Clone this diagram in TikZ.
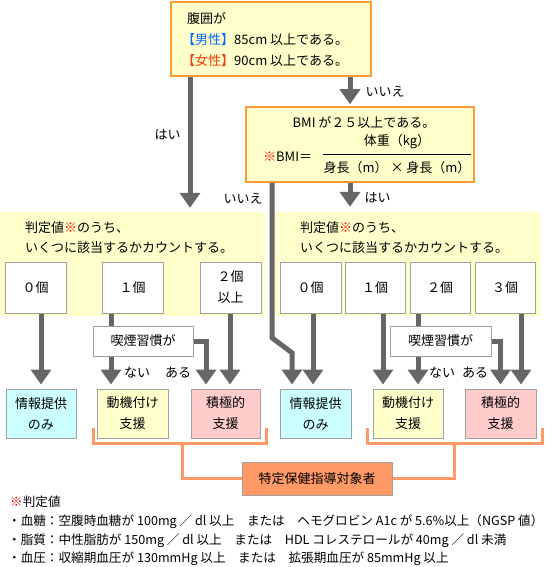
\documentclass[tikz,border=0pt]{standalone}
\usepackage{fontspec}
\setmainfont{Noto Sans CJK JP}
\usetikzlibrary{arrows.meta,calc}
\definecolor{memo}{HTML}{FFFFCC}
\definecolor{waku}{HTML}{FF9933}
\definecolor{daidai}{HTML}{FF9966}
\definecolor{sen}{HTML}{666666}
\definecolor{hai}{HTML}{A0A0A0}
\definecolor{mizu}{HTML}{CCFFFF}
\definecolor{momo}{HTML}{FFCCCC}
\definecolor{ao}{HTML}{0066FF}
\definecolor{aka}{HTML}{FF3300}
\begin{document}
\begin{tikzpicture}[x=1pt,y=-1pt,
    font=\fontsize{13}{21}\selectfont,
    every node/.style={inner sep=0pt},
    joken/.style={draw=waku,line width=1.5pt,fill=memo},
    panel/.style={fill=memo,minimum width=265pt,minimum height=104pt},
    kosu/.style={draw=hai,line width=1pt,fill=white,minimum width=61pt,minimum height=51pt,align=center},
    kekka/.style={draw=hai,line width=1pt,minimum width=70pt,minimum height=49pt,align=center},
    kitsuen/.style={draw=hai,line width=1pt,fill=white,minimum width=100pt,minimum height=30pt},
    bo/.style={draw=sen,line width=5pt},
    ya/.style={bo,-{Triangle[width=20pt,length=15pt]},shorten >=4pt},
    kakko/.style={draw=daidai,line width=3pt},
    chu/.style={anchor=west,font=\fontsize{12.6}{15}\selectfont}]
    \useasboundingbox (0,0) rectangle (554,567);

    % question boxes
    \node[joken,minimum width=200pt,minimum height=74pt] (fukui) at (271,39) {};
    \node[anchor=west,align=left] (fukuitxt) at (187,39.5) {腹囲が\\{\color{ao}\hspace{-5pt}【男性】}85cm 以上である。\\{\color{aka}\hspace{-5pt}【女性】}90cm 以上である。};
    \node[joken,minimum width=228pt,minimum height=75pt] (bmi) at (360,144.5) {};
    \node (bmititle) at (364,123) {BMI が２５以上である。};
    \node[anchor=west] (bmieq) at (263,157) {{\color{red}※}BMI＝};
    \node (bminum) at (397,142) {体重（kg）};
    \node (bmiden) at (397,168) {身長（m） × 身長（m）};
    \draw[line width=1.2pt] ($(bmiden.north west)+(0,-7)$) -- ($(bmiden.north east)+(0,-7)$);

    % count panels
    \node[panel] (lpanel) at (132.5,264) {};
    \node[panel] (rpanel) at (407.5,264) {};
    \node[anchor=west,align=left,font=\fontsize{13}{20}\selectfont] (ltxt) at (25,238) {判定値{\color{red}※}のうち、\\いくつに該当するかカウントする。};
    \node[anchor=west,align=left,font=\fontsize{13}{20}\selectfont] (rtxt) at (300,238) {判定値{\color{red}※}のうち、\\いくつに該当するかカウントする。};
    \node[kosu] (l0) at (35.5,287.5) {０個};
    \node[kosu] (l1) at (132.5,287.5) {１個};
    \node[kosu] (l2) at (230.5,287.5) {２個\\以上};
    \node[kosu] (r0) at (310.5,287.5) {０個};
    \node[kosu,minimum width=60pt] (r1) at (375,287.5) {１個};
    \node[kosu,minimum width=60pt] (r2) at (440,287.5) {２個};
    \node[kosu,minimum width=60pt] (r3) at (505,287.5) {３個};
    \node[kitsuen] (lsmoke) at (143,341) {喫煙習慣が};
    \node[kitsuen,minimum width=101pt] (rsmoke) at (440.5,341) {喫煙習慣が};

    % brackets to the target box
    \node[kekka,fill=daidai,minimum width=150pt,minimum height=33pt] (taisho) at (317,478.5) {特定保健指導対象者};
    \draw[kakko] ($(97,438)+(-4,-10)$) |- ($(260,438)+(6,5)$) -- ++(0,-15);
    \draw[kakko] ($(373,438)+(-6,-10)$) |- ($(536,438)+(6,5)$) -- ++(0,-15);
    \coordinate (lstem) at (182,443);
    \coordinate (rstem) at (454,443);
    \draw[kakko] (lstem) |- (taisho.west);
    \draw[kakko] (rstem) |- (taisho.east);

    % result boxes
    \node[kekka,fill=mizu] (linfo) at (41,413.5) {情報提供\\のみ};
    \node[kekka,fill=memo,minimum width=71pt] (lmot) at (132.5,413.5) {動機付け\\支援};
    \node[kekka,fill=momo,minimum width=69pt] (lact) at (225.5,413.5) {積極的\\支援};
    \node[kekka,fill=mizu,minimum width=71pt] (rinfo) at (315.5,413.5) {情報提供\\のみ};
    \node[kekka,fill=memo] (rmot) at (408,413.5) {動機付け\\支援};
    \node[kekka,fill=momo,minimum width=71pt] (ract) at (500.5,413.5) {積極的\\支援};

    % yes / no arrows
    \draw[ya] ([xshift=-81pt]fukui.south) -- node[pos=0.43,left=7pt]{はい} ([xshift=-81pt]fukui.south |- lpanel.north);
    \draw[ya,shorten >=2pt] ([xshift=79pt]fukui.south) -- node[right=13pt]{いいえ} ([xshift=79pt]fukui.south |- bmi.north);
    \draw[ya,shorten >=5pt] ([xshift=-10pt]bmi.south) -- node[right=12pt]{はい} ([xshift=-10pt]bmi.south |- rpanel.north);
    \draw[ya] ([xshift=-88pt]bmi.south) -- node[pos=0.1,left=7pt]{いいえ} ++(0,155) -- ++(20,15) -- ([xshift=-23.5pt]rinfo.north);

    % count arrows, left
    \draw[ya] (l0.south -| linfo.north) -- (linfo.north);
    \draw[bo] ([xshift=-32pt]lsmoke.north |- l1.south) -- ([xshift=-32pt]lsmoke.north);
    \draw[ya] ([xshift=-32pt]lsmoke.south) -- ([xshift=-32pt]lsmoke.south |- lmot.north);
    \draw[ya] (lsmoke.east) -| ([xshift=-19.5pt]lact.north);
    \draw[ya] ([xshift=4.5pt]lact.north |- l2.south) -- ([xshift=4.5pt]lact.north);
    \node (lnai) at (137,373) {ない};
    \node (laru) at (178,373) {ある};

    % count arrows, right
    \draw[ya] ([xshift=-2.5pt]rinfo.north |- r0.south) -- ([xshift=-2.5pt]rinfo.north);
    \draw[ya] ([xshift=-25pt]rmot.north |- r1.south) -- ([xshift=-25pt]rmot.north);
    \draw[bo] ([xshift=-22.5pt]rsmoke.north |- r2.south) -- ([xshift=-22.5pt]rsmoke.north);
    \draw[ya] ([xshift=-22.5pt]rsmoke.south) -- ([xshift=-22.5pt]rsmoke.south |- rmot.north);
    \draw[ya] (rsmoke.east) -| (ract.north);
    \draw[ya] ([xshift=20.5pt]ract.north |- r3.south) -- ([xshift=20.5pt]ract.north);
    \node (rnai) at (442,373) {ない};
    \node (raru) at (475,373) {ある};

    % notes
    \node[chu] (note0) at (10,502) {{\color{red}※}判定値};
    \node[chu] (note1) at (8,522) {・血糖：空腹時血糖が 100mg ／ dl 以上　または　ヘモグロビン A1c が 5.6\%以上（NGSP 値）};
    \node[chu] (note2) at (8,541) {・脂質：中性脂肪が 150mg ／ dl 以上　または　HDL コレステロールが 40mg ／ dl 未満};
    \node[chu] (note3) at (8,559) {・血圧：収縮期血圧が 130mmHg 以上　または　拡張期血圧が 85mmHg 以上};
\end{tikzpicture}
\end{document}
